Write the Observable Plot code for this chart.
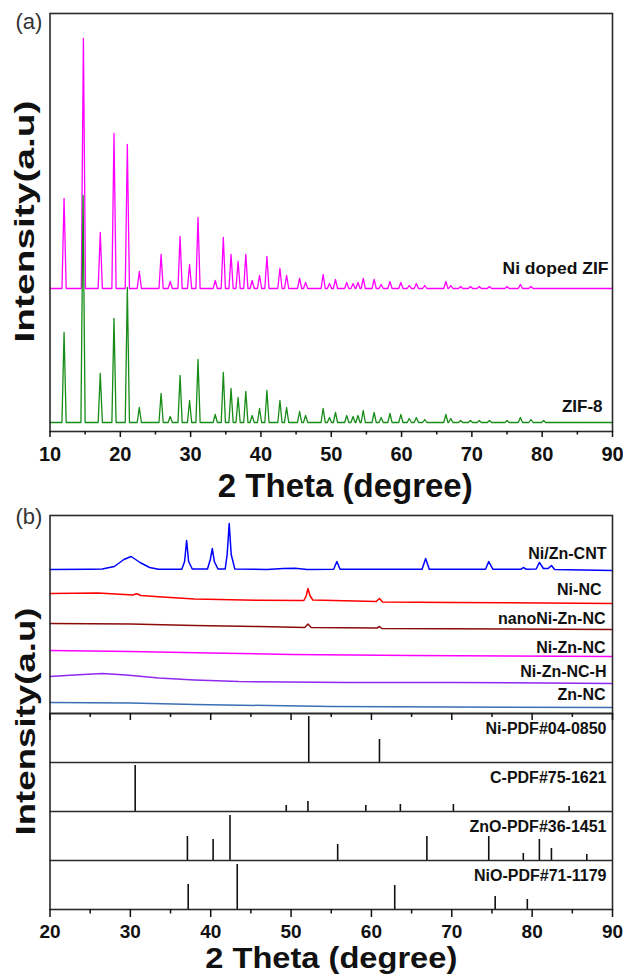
<!DOCTYPE html>
<html><head><meta charset="utf-8">
<script src="https://cdn.jsdelivr.net/npm/d3@7"></script>
<script src="https://cdn.jsdelivr.net/npm/@observablehq/plot@0.6"></script>
<style>
html,body{margin:0;padding:0;background:#fff;}
#wrap{position:relative;width:623px;height:974px;overflow:hidden;background:#fff;}
#wrap svg{position:absolute;left:0;overflow:visible;}
</style></head><body><div id="wrap"></div>
<script>
// ---------------- DATA ----------------
// Panel (a): x ticks
const xTicksA = [10, 20, 30, 40, 50, 60, 70, 80, 90];
const xMinorA = [15, 25, 35, 45, 55, 65, 75, 85];
// Panel (a): peak positions (2θ) and heights (a.u.)
const zif8Peaks = [
  [12.0, 90], [14.7, 227], [17.15, 49], [19.1, 104], [21.0, 135], [22.7, 15], [25.8, 29], [27.1, 6],
  [28.5, 47], [29.85, 22], [31.05, 63], [33.5, 8], [34.65, 50], [35.75, 34], [36.75, 25], [37.85, 31],
  [38.75, 7], [39.8, 14], [40.85, 32], [42.7, 22], [43.65, 15], [45.5, 11], [46.35, 7], [48.85, 14],
  [49.75, 5], [50.6, 10], [52.2, 7], [53.1, 6], [53.8, 7], [54.55, 12], [56.1, 10], [57.1, 5],
  [58.35, 9], [59.9, 8], [61.1, 4], [62.1, 5], [63.3, 3], [66.3, 8], [67.0, 4], [68.4, 2],
  [69.8, 2], [71.05, 2], [72.5, 2], [75.0, 2], [76.9, 5], [78.4, 3], [80.2, 2]
];
const niZifPeaks = [
  [12.0, 90], [14.75, 250], [17.15, 56], [19.1, 155], [21.0, 144], [22.7, 17], [25.8, 34], [27.1, 7],
  [28.5, 52], [29.85, 24], [31.05, 71], [33.5, 8], [34.65, 51], [35.75, 34], [36.75, 27], [37.85, 34],
  [38.75, 8], [39.8, 13], [40.85, 32], [42.7, 20], [43.65, 13], [45.5, 10], [46.35, 6], [48.85, 14],
  [49.75, 5], [50.6, 9], [52.2, 6], [53.1, 5], [53.8, 6], [54.55, 10], [56.1, 9], [57.1, 4],
  [58.35, 7], [59.9, 6], [61.1, 3], [62.1, 5], [63.3, 3], [66.3, 7], [67.0, 3], [68.4, 2],
  [69.8, 2], [71.05, 2], [72.5, 2], [75.0, 2], [76.9, 4], [78.4, 2]
];
const seriesA = ["Ni doped ZIF", "ZIF-8"];

// Panel (b)
const xTicksB = [20, 30, 40, 50, 60, 70, 80, 90];
const xMinorB = [25, 35, 45, 55, 65, 75, 85];
const seriesB = ["Ni/Zn-CNT", "Ni-NC", "nanoNi-Zn-NC", "Ni-Zn-NC", "Ni-Zn-NC-H", "Zn-NC"];
const cntPts = [
  [20, 0], [25, 0.3], [26.5, 0.5], [28, 3], [29.2, 10], [30.1, 13], [31.2, 7], [32.4, 2], [33.5, 0.3],
  [36.4, 0.3], [36.75, 8], [37.0, 29], [37.25, 8], [37.7, 0.5], [39.6, 0.5], [39.95, 10], [40.2, 21],
  [40.45, 8], [40.9, 0.5], [41.8, 0.5], [42.05, 15], [42.3, 46], [42.55, 15], [43.0, 0.5], [47, 0],
  [49, 1], [50.5, 1.2], [52, 0], [55.3, 0.3], [55.7, 8], [56.1, 0.3], [66.3, 0.3], [66.75, 11],
  [67.2, 0.3], [74.2, 0.3], [74.6, 8], [75.1, 0.3], [78.6, 0.2], [78.9, 2], [79.3, 0.2], [80.5, 0.5],
  [80.9, 7], [81.4, 1], [82.0, 1], [82.4, 4], [82.8, 0], [90, -1]
];
const niNcPts = [
  [20, 10], [26, 10.5], [30.3, 8.5], [30.8, 9.8], [31.3, 8], [34, 6.5], [38, 4.5], [46, 3.2], [51.6, 3],
  [51.9, 8], [52.1, 15], [52.35, 8], [52.7, 3.5], [60.6, 2], [61.0, 5], [61.4, 1.5], [70, 1], [90, 0]
];
const nanoNiPts = [
  [20, 6], [30, 5.5], [38, 4], [46, 3], [51.7, 2], [52.1, 5.5], [52.5, 2], [60.7, 1.5], [61.0, 3],
  [61.3, 1], [90, 0]
];
const niZnNcPts = [[20, 6], [30, 5], [40, 3.5], [50, 2], [65, 1], [90, 0]];
const niZnNcHPts = [
  [20, 7], [23, 8.5], [26.5, 10], [29.5, 8.5], [33.5, 5.5], [38, 3.5], [43.5, 2], [57, 1], [70, 1], [90, 0]
];
const znNcPts = [[20, 5], [30, 4.5], [38, 3], [55, 1], [90, 0]];

// Reference patterns: [2θ, relative intensity]
const pdfNames = ["Ni-PDF#04-0850", "C-PDF#75-1621", "ZnO-PDF#36-1451", "NiO-PDF#71-1179"];
const niPdf = [[52.2, 46], [61.0, 23]];
const cPdf = [[30.6, 46], [49.4, 6], [52.1, 10], [59.3, 6], [63.6, 7], [70.2, 7], [84.6, 5]];
const znoPdf = [[37.1, 24], [40.3, 21], [42.4, 45], [55.8, 16], [66.9, 24], [74.6, 24], [78.9, 7], [80.9, 21], [82.4, 12], [86.8, 6]];
const nioPdf = [[37.2, 25], [43.3, 45], [62.9, 24], [75.4, 13], [79.4, 10]];

// ---------------- LAYOUT / STYLE ----------------
const FONT = '"Liberation Sans", Arial, Helvetica, sans-serif';
const INK = "#111";
const FRAME = "#2a2a2a";
const offsetsA = [143, 9];            // vertical offset of each stacked pattern
const labelLiftA = [19.5, 16];
const labelDxA = [-4, -10];
const colorsA = ["#ff00ff", "#178c17"];

const offsetsB = [144, 110, 84, 57, 30, 6];
const labelLiftB = [16, 14, 10.5, 8.5, 12, 13];
const labelDxB = [-6, -11, -7, -7, -6, -7];
const colorsB = ["#0000ff", "#ff0000", "#8b0a0a", "#ff00ff", "#9028f0", "#3b6fb5"];
const panelH = 49;
const hwA = 0.3; // half-width of a peak base (degrees)

// ---------------- BUILD ROWS ----------------
function peakRows(peaks, from, to, offset) {
  const rows = [{x: from, y: offset}];
  for (const [x, h] of peaks) {
    rows.push({x: x - hwA, y: offset}, {x, y: offset + h}, {x: x + hwA, y: offset});
  }
  rows.push({x: to, y: offset});
  return rows;
}
const rowsA = [niZifPeaks, zif8Peaks].map((p, i) => peakRows(p, 10, 90, offsetsA[i]));
const ptsB = [cntPts, niNcPts, nanoNiPts, niZnNcPts, niZnNcHPts, znNcPts];
const rowsB = ptsB.map((pts, i) => pts.map(([x, y]) => ({x, y: y + offsetsB[i]})));
const pdfRows = [niPdf, cPdf, znoPdf, nioPdf].flatMap((set, i) => {
  const base = (pdfNames.length - 1 - i) * panelH;
  return set.map(([x, h]) => ({x, y1: base, y2: base + h}));
});

const wrap = document.getElementById("wrap");
function place(svg, top) { svg.style.top = top + "px"; wrap.appendChild(svg); return svg; }
function stretch(svg, str, len) {
  d3.select(svg).selectAll("text").filter(function () { return this.textContent === str; })
    .attr("textLength", len).attr("lengthAdjust", "spacingAndGlyphs");
}
const baseStyle = {background: "transparent", fontFamily: FONT, color: INK, overflow: "visible"};
const tickFont = {fontSize: 20, fontWeight: "bold"};

// ---------------- PANEL (a) ----------------
const A = Plot.plot({
  width: 623, height: 500,
  marginLeft: 49.5, marginRight: 11, marginTop: 13, marginBottom: 69,
  style: baseStyle,
  x: {domain: [10, 90], label: null},
  y: {domain: [0, 418], axis: null},
  marks: [
    ...rowsA.map((r, i) => Plot.line(r, {x: "x", y: "y", stroke: colorsA[i], strokeWidth: 1.3})),
    Plot.frame({stroke: FRAME, strokeWidth: 1.6}),
    Plot.axisX({ticks: xTicksA, tickSize: 6, tickPadding: 9, ...tickFont, strokeWidth: 1.5, label: null}),
    Plot.axisX({ticks: xMinorA, tickSize: 3.5, tickFormat: () => "", strokeWidth: 1.5, label: null}),
    ...seriesA.map((s, i) => Plot.text([s], {x: () => 90, y: () => offsetsA[i] + labelLiftA[i], text: d => d,
      textAnchor: "end", dx: labelDxA[i], fontSize: 17, fontWeight: "bold", fill: INK})),
    Plot.text(["(a)"], {frameAnchor: "top-left", text: d => d, dx: -34.5, dy: 0, fontSize: 22, fontWeight: 300, fill: "#333"}),
    Plot.text(["Intensity(a.u)"], {frameAnchor: "left", text: d => d, rotate: -90, textAnchor: "middle", lineAnchor: "middle",
      dx: -25, dy: -1, fontSize: 27, fontWeight: "bold", fill: INK}),
    Plot.text(["2 Theta (degree)"], {frameAnchor: "bottom", text: d => d, textAnchor: "middle", lineAnchor: "top",
      dx: 14, dy: 42, fontSize: 33, fontWeight: "bold", fill: INK})
  ]
});
place(A, 0);
stretch(A, "Intensity(a.u)", 242);
stretch(A, "Ni doped ZIF", 106);

// ---------------- PANEL (b) reference patterns ----------------
const B2 = Plot.plot({
  width: 623, height: 269,
  marginLeft: 49.5, marginRight: 11, marginTop: 8, marginBottom: 65,
  style: baseStyle,
  x: {domain: [20, 90], label: null},
  y: {domain: [0, panelH * pdfNames.length], axis: null},
  marks: [
    Plot.ruleX(pdfRows, {x: "x", y1: "y1", y2: "y2", stroke: INK, strokeWidth: 1.6}),
    Plot.ruleY(pdfNames.slice(1).map((_, i) => (i + 1) * panelH), {stroke: FRAME, strokeWidth: 1.5}),
    Plot.frame({stroke: FRAME, strokeWidth: 1.6}),
    Plot.text(pdfNames, {x: () => 90, y: (d, i) => (pdfNames.length - i) * panelH - 15.5, text: d => d,
      textAnchor: "end", dx: -6, fontSize: 16, fontWeight: "bold", fill: INK}),
    Plot.axisX({ticks: xTicksB, tickSize: 8, tickPadding: 7, fontSize: 19, fontWeight: "bold", strokeWidth: 1.5, label: null}),
    Plot.axisX({ticks: xMinorB, tickSize: 4.5, tickFormat: () => "", strokeWidth: 1.5, label: null}),
    Plot.text(["2 Theta (degree)"], {frameAnchor: "bottom", text: d => d, textAnchor: "middle", lineAnchor: "top",
      dx: 0, dy: 38, fontSize: 29, fontWeight: "bold", fill: INK})
  ]
});
place(B2, 705);
stretch(B2, "2 Theta (degree)", 252);

// ---------------- PANEL (b) measured patterns ----------------
const B1 = Plot.plot({
  width: 623, height: 216,
  marginLeft: 49.5, marginRight: 11, marginTop: 10, marginBottom: 8,
  style: baseStyle,
  x: {domain: [20, 90], label: null},
  y: {domain: [0, 198], axis: null},
  marks: [
    ...rowsB.map((r, i) => Plot.line(r, {x: "x", y: "y", stroke: colorsB[i], strokeWidth: 1.5})),
    Plot.frame({stroke: FRAME, strokeWidth: 1.6}),
    Plot.axisX({ticks: xTicksB, tickSize: 7, tickFormat: () => "", strokeWidth: 1.5, label: null}),
    Plot.axisX({ticks: xMinorB, tickSize: 4, tickFormat: () => "", strokeWidth: 1.5, label: null}),
    ...seriesB.map((s, i) => Plot.text([s], {x: () => 90, y: () => offsetsB[i] + labelLiftB[i], text: d => d,
      textAnchor: "end", dx: labelDxB[i], fontSize: 16, fontWeight: "bold", fill: INK})),
    Plot.text(["(b)"], {frameAnchor: "top-left", text: d => d, dx: -34.5, dy: -7, fontSize: 22, fontWeight: 300, fill: "#333"}),
    Plot.text(["Intensity(a.u)"], {frameAnchor: "left", text: d => d, rotate: -90, textAnchor: "middle", lineAnchor: "middle",
      dx: -24, dy: 107, fontSize: 27, fontWeight: "bold", fill: INK})
  ]
});
place(B1, 505);
stretch(B1, "Intensity(a.u)", 228);
</script></body></html>
